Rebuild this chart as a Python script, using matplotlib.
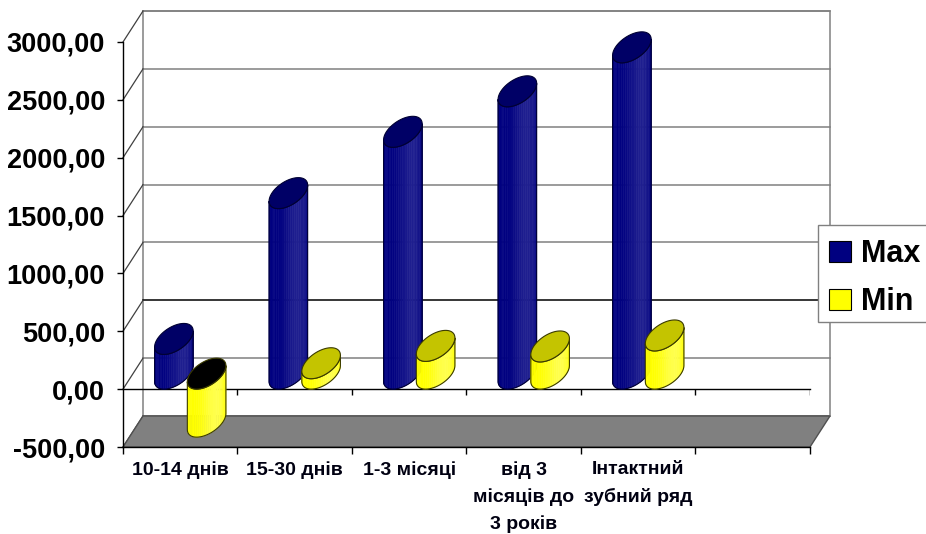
import numpy as np
import matplotlib
matplotlib.use("Agg")
import matplotlib.pyplot as plt
from matplotlib.patches import Polygon, Rectangle
from matplotlib.colors import to_rgb

plt.rcParams['font.family'] = ['Liberation Sans', 'DejaVu Sans']

# data
categories = ["10-14 днів", "15-30 днів", "1-3 місяці",
              "від 3\nмісяців до\n3 років", "Інтактний\nзубний ряд"]
max_vals = [300, 1560, 2090, 2440, 2820]
min_vals = [-415, 90, 240, 235, 330]
series_names = ["Max", "Min"]
y_ticks = [-500, 0, 500, 1000, 1500, 2000, 2500, 3000]

# layout in pixels of the 926x534 picture
W, H = 926, 534
L, R, T, B = 123, 810, 42, 447
n_slots = 6
YMIN, YMAX = -500, 3000
ux = n_slots / (R - L)          # x units per pixel
uy = (YMAX - YMIN) / (B - T)    # value units per pixel
DX = 20 * ux                    # depth offset
DY = 31 * uy
RX = 16.5 * ux                  # cylinder radius (horizontal)
OFF = 0.143                     # series offset from category centre

fig = plt.figure(figsize=(W / 100, H / 100), dpi=100)
ax = fig.add_axes([L / W, (H - B) / H, (R - L) / W, (B - T) / H])
ax.set_xlim(0, n_slots)
ax.set_ylim(YMIN, YMAX)
ax.set_facecolor('none')
for s in ['top', 'right']:
    ax.spines[s].set_visible(False)
for s in ['left', 'bottom']:
    ax.spines[s].set_color('black')
    ax.spines[s].set_linewidth(1)
    ax.spines[s].set_zorder(2)

grid_c = '#808080'
# back wall and left wall lines
ax.add_patch(Polygon([(DX, YMIN + DY), (n_slots + DX, YMIN + DY),
                      (n_slots + DX, YMAX + DY), (DX, YMAX + DY)],
                     closed=True, facecolor='white', edgecolor=grid_c,
                     lw=1.1, clip_on=False, zorder=0.5))
for v in y_ticks:
    c = 'black' if v == 500 else grid_c
    ax.plot([DX, n_slots + DX], [v + DY, v + DY], color=c, lw=1.1,
            clip_on=False, zorder=0.6)
    ax.plot([0, DX], [v, v + DY], color='#404040', lw=0.9,
            clip_on=False, zorder=0.6)

# floor
ax.add_patch(Polygon([(0, YMIN), (n_slots, YMIN), (n_slots + DX, YMIN + DY),
                      (DX, YMIN + DY)], closed=True, facecolor='#808080',
                     edgecolor='#505050', lw=1, clip_on=False, zorder=0.8))

# front zero line with ticks
ax.plot([0, n_slots], [0, 0], color='black', lw=1, zorder=2, clip_on=False)
ax.vlines(np.arange(1, n_slots + 1), -6 * uy, 0, color='black', lw=1, zorder=2)

th1 = np.arctan2(0.5 * DX, RX)


def ring(xc, v, ths):
    z = 0.5 + 0.5 * np.sin(ths)
    return xc + RX * np.cos(ths) + z * DX, v + z * DY


def cylinder(xc, v, body, cap, line_c, amp, zo):
    lo, hi = min(0, v), max(0, v)
    ths = np.linspace(th1 - np.pi, th1, 29)
    xs, ylo = ring(xc, lo, ths)
    _, yhi = ring(xc, hi, ths)
    base = np.array(to_rgb(body))
    for i in range(len(ths) - 1):
        tm = 0.5 * (ths[i] + ths[i + 1])
        k = amp * max(0.0, np.cos(tm + 0.5)) ** 4
        col = base * (1 - k) + k
        ax.add_patch(Polygon([(xs[i], ylo[i]), (xs[i + 1], ylo[i + 1]),
                              (xs[i + 1], yhi[i + 1]), (xs[i], yhi[i])],
                             closed=True, facecolor=col, edgecolor=col,
                             lw=0.4, clip_on=False, zorder=zo))
    outline = list(zip(xs, yhi)) + list(zip(xs[::-1], ylo[::-1]))
    ax.add_patch(Polygon(outline, closed=True, fill=False, edgecolor=line_c,
                         lw=0.8, clip_on=False, zorder=zo))
    full = np.linspace(0, 2 * np.pi, 73)
    cx, cy = ring(xc, hi, full)
    ax.add_patch(Polygon(list(zip(cx, cy)), closed=True, facecolor=cap,
                         edgecolor=line_c, lw=0.8, clip_on=False, zorder=zo))


for i in range(len(categories)):
    cylinder(i + 0.5 - OFF, max_vals[i], '#000080', '#000066', '#000033',
             0.12, 3 + 2 * i)
    cap = '#000000' if min_vals[i] < 0 else '#C4C400'
    cylinder(i + 0.5 + OFF, min_vals[i], '#FFFF00', cap, '#3a3a00',
             0.3, 4 + 2 * i)

# ticks and labels
ax.set_yticks(y_ticks)
ax.set_yticklabels([f"{v:.2f}".replace('.', ',') for v in y_ticks],
                   fontsize=19.5, fontweight='bold')
ax.tick_params(axis='y', direction='out', length=4, width=1, pad=9)
ax.set_xticks(np.arange(0, n_slots + 1))
ax.set_xticklabels([])
ax.tick_params(axis='x', which='major', direction='out', length=5, width=1)
ax.set_xticks(np.arange(len(categories)) + 0.5, minor=True)
ax.set_xticklabels(categories, minor=True, fontsize=14, fontweight='bold',
                   color='#000011')
ax.tick_params(axis='x', which='minor', length=0, pad=10)
for t in ax.get_xticklabels(minor=True):
    t.set_linespacing(1.7)

# legend, partly cut off on the right like the original
def fx(px):
    return px / W


def fy(py):
    return (H - py) / H


fig.patches.append(Rectangle((fx(818), fy(322)), fx(140), (322 - 225) / H,
                             transform=fig.transFigure, facecolor='white',
                             edgecolor='#808080', lw=1, zorder=5))
for name, col, ytop in zip(series_names, ['#000080', '#FFFF00'], [241, 289]):
    fig.patches.append(Rectangle((fx(829), fy(ytop + 21)), fx(22), 21 / H,
                                 transform=fig.transFigure, facecolor=col,
                                 edgecolor='black', lw=0.8, zorder=6))
    fig.text(fx(861), fy(ytop + 21), name, fontsize=22, fontweight='bold',
             va='baseline', ha='left', zorder=7)

fig.savefig('out.png', dpi=100)
